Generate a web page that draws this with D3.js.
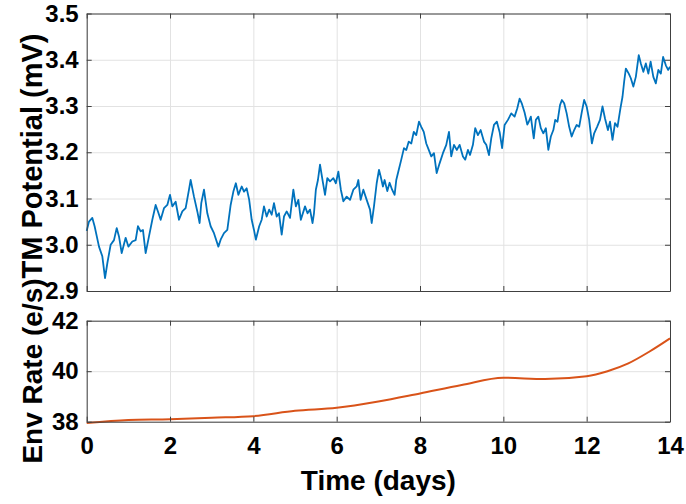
<!DOCTYPE html>
<html>
<head>
<meta charset="utf-8">
<script src="https://cdn.jsdelivr.net/npm/d3@7"></script>
<style>
    body { margin: 0; background: #fff; }
    text { font-family: "Liberation Sans", Arial, sans-serif; font-weight: bold; fill: #000; }
</style>
</head>
<body>
<svg width="686" height="504"></svg>
<script>
// TM potential trace (days, mV)
let tmDays = [0, 0.055, 0.135, 0.19, 0.295, 0.375, 0.44, 0.495, 0.575, 0.655, 0.72, 0.775, 0.84, 0.935, 1.0,
    1.095, 1.175, 1.23, 1.295, 1.35, 1.415, 1.495, 1.575, 1.655, 1.71, 1.775, 1.855, 1.935, 2.0,
    2.055, 2.135, 2.215, 2.295, 2.375, 2.455, 2.495, 2.575, 2.655, 2.71, 2.75, 2.815, 2.895, 2.975,
    3.055, 3.16, 3.215, 3.295, 3.375, 3.455, 3.52, 3.58, 3.64, 3.72, 3.775, 3.84, 3.9, 3.96,
    4.015, 4.06, 4.14, 4.2, 4.255, 4.32, 4.38, 4.44, 4.495, 4.56, 4.615, 4.68, 4.735, 4.8, 4.88, 4.96,
    5.02, 5.08, 5.14, 5.24, 5.3, 5.36, 5.42, 5.455, 5.5, 5.55, 5.6, 5.665, 5.72, 5.775, 5.84, 5.92, 5.98,
    6.04, 6.1, 6.16, 6.24, 6.32, 6.4, 6.48, 6.52, 6.575, 6.64, 6.72, 6.8, 6.84, 6.895, 6.96,
    7.015, 7.055, 7.11, 7.15, 7.215, 7.27, 7.33, 7.39, 7.43, 7.49, 7.55, 7.615, 7.67, 7.73, 7.79, 7.85, 7.91, 7.975,
    8.03, 8.09, 8.15, 8.21, 8.27, 8.335, 8.4, 8.47, 8.55, 8.63, 8.695, 8.75, 8.815, 8.885, 8.95,
    9.03, 9.085, 9.15, 9.2, 9.27, 9.325, 9.39, 9.455, 9.535, 9.59, 9.655, 9.71, 9.775, 9.845, 9.91, 9.97,
    10.03, 10.11, 10.19, 10.27, 10.335, 10.39, 10.445, 10.51, 10.575, 10.61, 10.66, 10.73, 10.78, 10.84, 10.9, 10.96,
    11.02, 11.08, 11.14, 11.2, 11.245, 11.3, 11.36, 11.405, 11.46, 11.52, 11.58, 11.64, 11.7, 11.76, 11.82, 11.885, 11.94,
    12.0, 12.06, 12.125, 12.18, 12.25, 12.32, 12.38, 12.44, 12.51, 12.56, 12.62, 12.68, 12.74, 12.81, 12.86, 12.9, 12.94,
    13.01, 13.06, 13.12, 13.18, 13.25, 13.3, 13.36, 13.42, 13.48, 13.535, 13.6, 13.66, 13.72, 13.78, 13.835, 13.9, 13.955, 14.0];
let tmValues = [3.03, 3.05, 3.058, 3.04, 2.996, 2.975, 2.928, 2.96, 3.0, 3.01, 3.036, 3.018, 2.982, 3.015, 2.996,
    3.007, 3.01, 3.04, 3.029, 3.032, 2.982, 3.018, 3.054, 3.086, 3.072, 3.054, 3.079, 3.086, 3.108,
    3.083, 3.093, 3.054, 3.072, 3.079, 3.119, 3.14, 3.104, 3.072, 3.047, 3.09, 3.119, 3.068, 3.04,
    3.025, 2.996, 3.011, 3.025, 3.032, 3.086, 3.115, 3.133, 3.108, 3.126, 3.115, 3.122, 3.097, 3.054,
    3.032, 3.011, 3.04, 3.054, 3.083, 3.061, 3.076, 3.065, 3.09, 3.061, 3.068, 3.022, 3.061, 3.072, 3.058, 3.119,
    3.083, 3.097, 3.054, 3.083, 3.068, 3.076, 3.047, 3.068, 3.119, 3.14, 3.173, 3.137, 3.108, 3.144, 3.137, 3.144, 3.133,
    3.158, 3.119, 3.094, 3.104, 3.097, 3.119, 3.126, 3.14, 3.097, 3.119, 3.097, 3.076, 3.047, 3.083, 3.133,
    3.162, 3.148, 3.126, 3.14, 3.116, 3.134, 3.119, 3.108, 3.14, 3.162, 3.184, 3.209, 3.205, 3.223, 3.219, 3.244, 3.237, 3.266,
    3.255, 3.244, 3.219, 3.205, 3.191, 3.198, 3.155, 3.176, 3.198, 3.216, 3.244, 3.191, 3.216, 3.205, 3.216,
    3.191, 3.184, 3.205, 3.194, 3.216, 3.252, 3.237, 3.248, 3.223, 3.216, 3.194, 3.23, 3.259, 3.266, 3.244, 3.209,
    3.259, 3.27, 3.284, 3.277, 3.295, 3.316, 3.305, 3.286, 3.26, 3.266, 3.277, 3.23, 3.27, 3.277, 3.252, 3.241,
    3.252, 3.205, 3.234, 3.248, 3.27, 3.266, 3.302, 3.313, 3.306, 3.284, 3.255, 3.234, 3.248, 3.259, 3.255, 3.288, 3.313,
    3.299, 3.27, 3.219, 3.241, 3.255, 3.27, 3.299, 3.273, 3.248, 3.266, 3.227, 3.263, 3.255, 3.295, 3.32, 3.353, 3.381,
    3.37, 3.36, 3.342, 3.363, 3.41, 3.392, 3.374, 3.392, 3.37, 3.396, 3.363, 3.349, 3.378, 3.37, 3.406, 3.388, 3.378, 3.385];

// env rate (days, e/s)
let rateDays = [0, 1, 2, 3, 4, 5, 6, 7, 8, 9, 10, 11, 12, 12.5, 13, 13.5, 14];
let rateValues = [37.95, 38.07, 38.1, 38.16, 38.22, 38.43, 38.55, 38.8, 39.12, 39.45, 39.74, 39.69, 39.8, 40.0, 40.31, 40.77, 41.3];

let xTicks = [0, 2, 4, 6, 8, 10, 12, 14];
let tmTicks = [2.9, 3.0, 3.1, 3.2, 3.3, 3.4, 3.5];
let rateTicks = [38, 40, 42];

let svg = d3.select("svg"),
    left = 86.7, right = 670,
    top1 = 13.5, bottom1 = 291,
    top2 = 320.7, bottom2 = 421.7,
    axisColor = "#404040",
    gridColor = "#e2e2e2";

let x = d3.scaleLinear().domain([0, 14]).range([left, right]);
let yTm = d3.scaleLinear().domain([2.9, 3.5]).range([bottom1, top1]);
let yRate = d3.scaleLinear().domain([38, 42]).range([bottom2, top2]);

function drawGrid(y, yTicks, top, bottom) {
    svg.append("g")
        .attr("transform", "translate(0," + bottom + ")")
        .call(d3.axisBottom(x).tickValues(xTicks).tickSize(-(bottom - top)).tickFormat(""))
        .call(g => g.select(".domain").remove())
        .selectAll("line").attr("stroke", gridColor);
    svg.append("g")
        .attr("transform", "translate(" + left + ",0)")
        .call(d3.axisLeft(y).tickValues(yTicks).tickSize(-(right - left)).tickFormat(""))
        .call(g => g.select(".domain").remove())
        .selectAll("line").attr("stroke", gridColor);
}

function drawFrame(y, yTicks, yFormat, top, bottom, showXLabels) {
    let axes = [
        svg.append("g").attr("transform", "translate(0," + bottom + ")")
            .call(d3.axisBottom(x).tickValues(xTicks).tickSize(-5).tickSizeOuter(0).tickPadding(15)
                .tickFormat(showXLabels ? d3.format("d") : "")),
        svg.append("g").attr("transform", "translate(0," + top + ")")
            .call(d3.axisTop(x).tickValues(xTicks).tickSize(-5).tickSizeOuter(0).tickFormat("")),
        svg.append("g").attr("transform", "translate(" + left + ",0)")
            .call(d3.axisLeft(y).tickValues(yTicks).tickSize(-5).tickSizeOuter(0).tickPadding(8)
                .tickFormat(yFormat)),
        svg.append("g").attr("transform", "translate(" + right + ",0)")
            .call(d3.axisRight(y).tickValues(yTicks).tickSize(-5).tickSizeOuter(0).tickFormat(""))
    ];
    axes.forEach(function (g) {
        g.select(".domain").attr("stroke", axisColor);
        g.selectAll("line").attr("stroke", axisColor);
        g.selectAll("text")
            .attr("font-family", "Liberation Sans, Arial, sans-serif")
            .attr("font-weight", "bold")
            .attr("font-size", 24)
            .attr("fill", "#000");
    });
}

drawGrid(yTm, tmTicks, top1, bottom1);
drawGrid(yRate, rateTicks, top2, bottom2);

let tmLine = d3.line()
    .x(function (d, i) { return x(tmDays[i]); })
    .y(function (d) { return yTm(d); });

svg.append("path")
    .attr("fill", "none")
    .attr("stroke", "#0072BD")
    .attr("stroke-width", 1.8)
    .attr("stroke-linejoin", "round")
    .attr("d", tmLine(tmValues));

let rateLine = d3.line()
    .x(function (d, i) { return x(rateDays[i]); })
    .y(function (d) { return yRate(d); })
    .curve(d3.curveMonotoneX);

svg.append("path")
    .attr("fill", "none")
    .attr("stroke", "#D95319")
    .attr("stroke-width", 2)
    .attr("d", rateLine(rateValues));

drawFrame(yTm, tmTicks, d3.format(".1f"), top1, bottom1, false);
drawFrame(yRate, rateTicks, d3.format("d"), top2, bottom2, true);

// axis titles
svg.append("text")
    .attr("transform", "translate(42,156) rotate(-90)")
    .attr("text-anchor", "middle")
    .attr("font-size", 29)
    .text("TM Potential (mV)");

svg.append("text")
    .attr("transform", "translate(42,371) rotate(-90)")
    .attr("text-anchor", "middle")
    .attr("font-size", 28)
    .text("Env Rate (e/s)");

svg.append("text")
    .attr("x", (left + right) / 2)
    .attr("y", 490)
    .attr("text-anchor", "middle")
    .attr("font-size", 28)
    .text("Time (days)");
</script>
</body>
</html>
